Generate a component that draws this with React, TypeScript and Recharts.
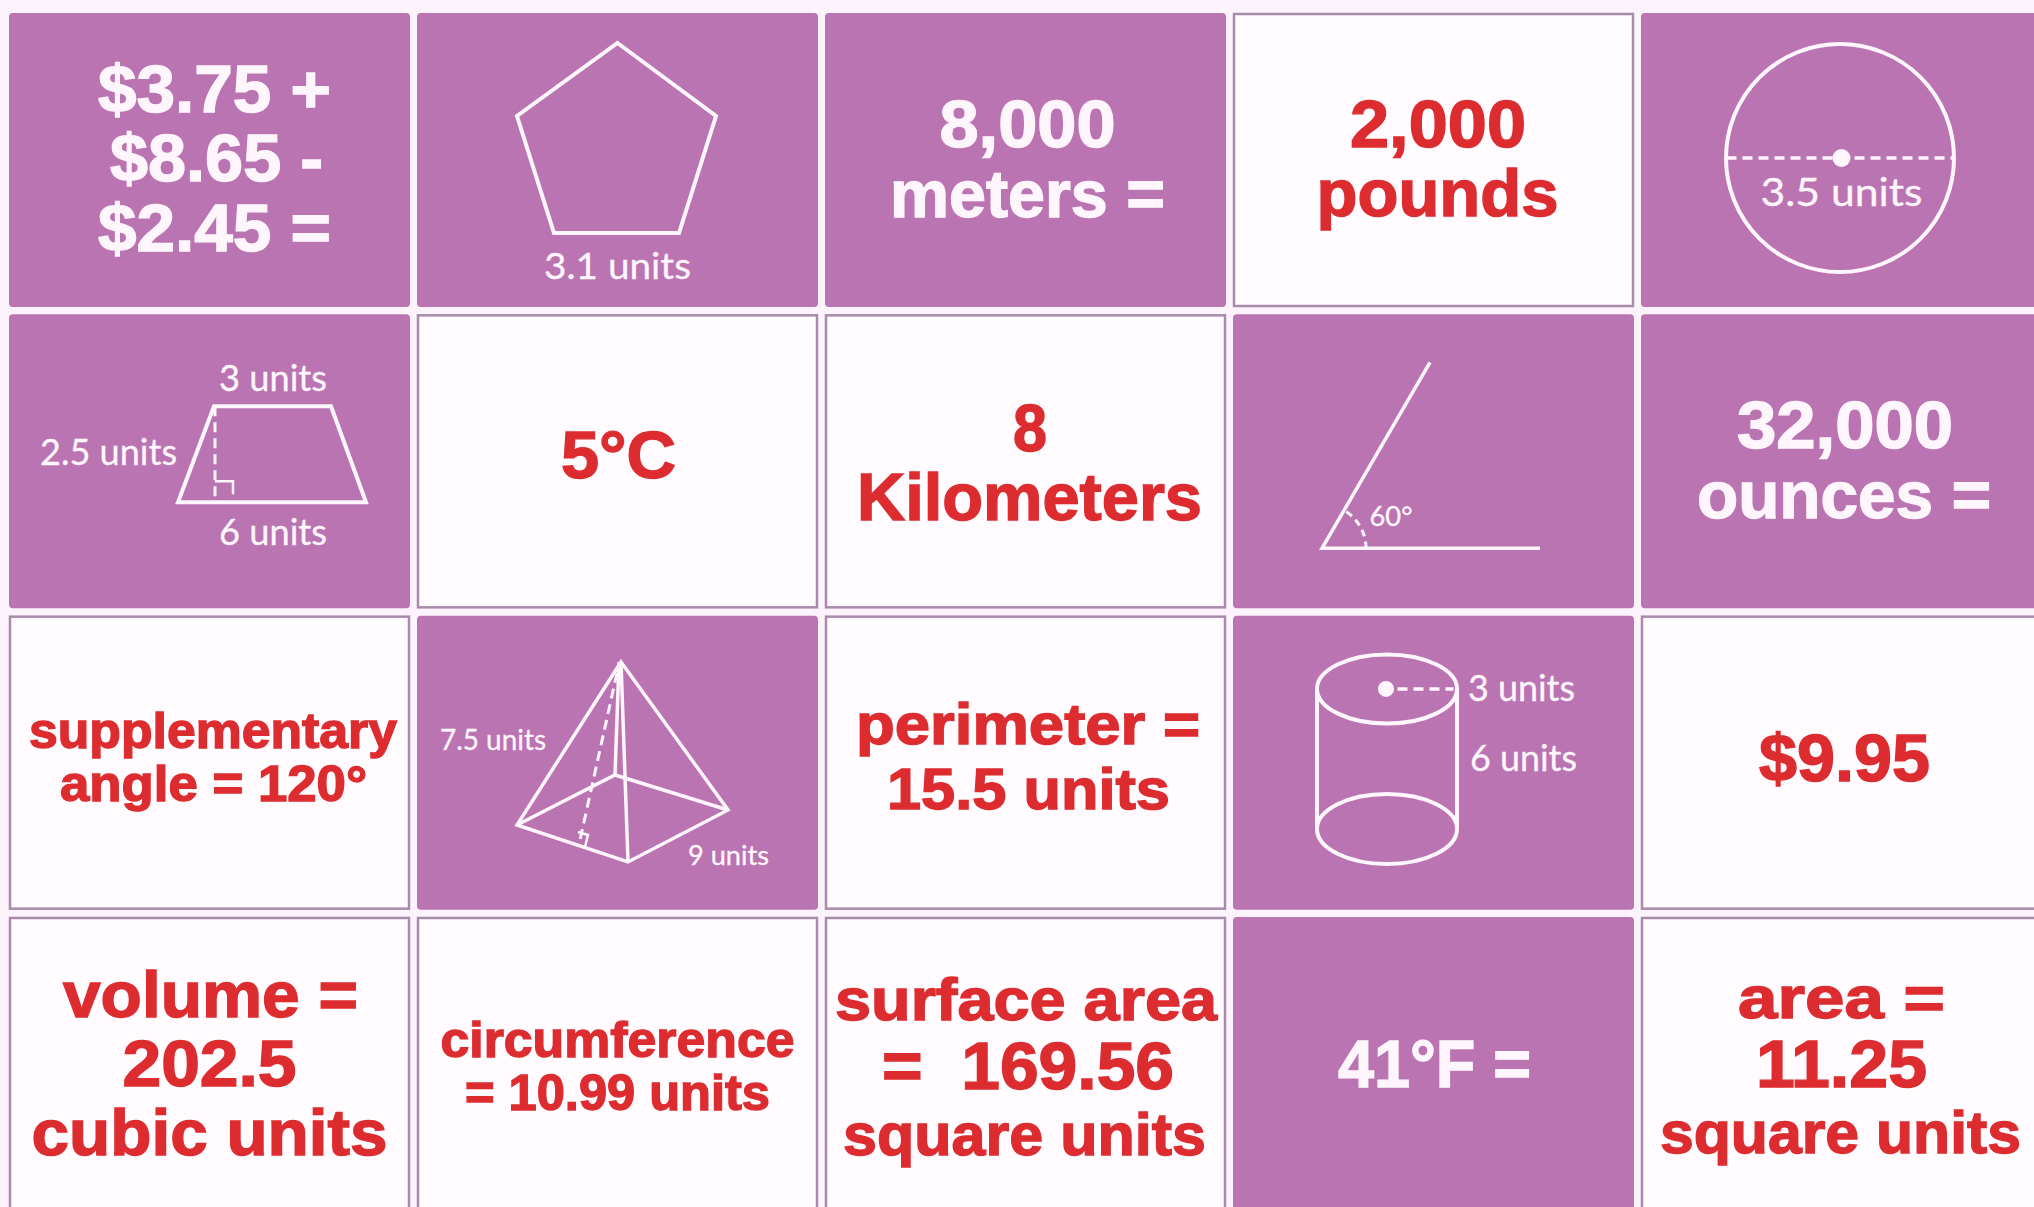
import React from "react";
import { ScatterChart, Scatter, XAxis, YAxis } from "recharts";

const WIDTH = 2034;
const HEIGHT = 1207;
const CARD_W = 401;
const CARD_H = 294;

const PURPLE = "#ba74b1";
const PAGE = "#fdf3fc";
const RED = "#dd2c2f";
const WHITE = "#fffbff";
const BORDER = "#a98aaa";
const INK = "#fff6fd";
const BOLD_FONT = "'Liberation Sans', Arial, sans-serif";
const THIN_FONT = "Lato, 'Open Sans', sans-serif";

// Grid position of each card, in reading order
const columns = [0, 1, 2, 3, 4, 0, 1, 2, 3, 4, 0, 1, 2, 3, 4, 0, 1, 2, 3, 4];
const rows = [0, 0, 0, 0, 0, 1, 1, 1, 1, 1, 2, 2, 2, 2, 2, 3, 3, 3, 3, 3];
const filled = [
  true, true, true, false, true,
  true, false, false, true, true,
  false, true, false, true, false,
  false, false, false, true, false,
];
const figures = [
  "", "pentagon", "", "", "circle",
  "trapezoid", "", "", "angle", "",
  "", "pyramid", "", "cylinder", "",
  "", "", "", "", "",
];
const cardLines = [
  ["$3.75 +", "$8.65 -", "$2.45 ="],
  ["3.1 units"],
  ["8,000", "meters ="],
  ["2,000", "pounds"],
  ["3.5 units"],
  ["3 units", "2.5 units", "6 units"],
  ["5°C"],
  ["8", "Kilometers"],
  ["60°"],
  ["32,000", "ounces ="],
  ["supplementary", "angle = 120°"],
  ["7.5 units", "9 units"],
  ["perimeter =", "15.5 units"],
  ["3 units", "6 units"],
  ["$9.95"],
  ["volume =", "202.5", "cubic units"],
  ["circumference", "= 10.99 units"],
  ["surface area", "=  169.56", "square units"],
  ["41°F ="],
  ["area =", "11.25", "square units"],
];

// [dx, baseline dy, text width, font size] of each line, from the card centre
const lineLayout: number[][][] = [
  [[5, -48, 233, 66], [7, 21, 213, 66], [5, 91, 233, 66]],
  [[0, 119, 147, 36]],
  [[2, -13, 176, 66], [2, 57, 275, 66]],
  [[4.5, -13, 176, 66], [4, 56, 242, 66]],
  [[0, 46, 162, 38]],
  [[63.5, -70, 108, 36], [-101, 4, 137, 36], [63.5, 84, 108, 36]],
  [[1, 17, 115, 66]],
  [[4.5, -10, 34, 66], [4, 59, 345, 66]],
  [[-42.5, 65, 43, 26]],
  [[3.5, -13, 216, 66], [2.5, 57, 294, 66]],
  [[3.5, -15, 368, 50], [4, 38, 307, 50]],
  [[-124.5, -13, 106, 29], [111, 102, 81, 27]],
  [[2.5, -19, 344, 58], [3, 46, 283, 58]],
  [[88, -62, 107, 36], [90, 8, 107, 36]],
  [[3, 18, 171, 66]],
  [[1, -47, 295, 64], [0, 22, 174, 64], [0, 91, 356, 64]],
  [[0, -7, 354, 50], [0, 46, 305, 50]],
  [[0.5, -44, 382, 60], [2.5, 25, 292, 66], [-1, 91, 363, 60]],
  [[1, 23, 193, 66]],
  [[0, -46, 207, 60], [0, 23, 171, 66], [-1, 89, 361, 60]],
];

const cards = columns.map((col, i) => ({
  col,
  row: rows[i],
  filled: filled[i],
  figure: figures[i],
  lines: cardLines[i],
  layout: lineLayout[i],
}));

const Figure = ({ name }: { name: string }) => {
  const line = { fill: "none", stroke: INK, strokeWidth: 4 };
  const dash = { ...line, strokeWidth: 3, strokeDasharray: "10 6" };
  if (name === "pentagon") {
    return <polygon {...line} points="0,-117 98.5,-44 61.5,73 -63.5,73 -100.5,-44" />;
  }
  if (name === "circle") {
    return (
      <g>
        <circle {...line} cx={-1.5} cy={-2} r={114} />
        <line {...dash} strokeWidth={3.5} x1={-115} y1={-2} x2={112} y2={-2} />
        <circle cx={0} cy={-2} r={9} fill={INK} />
      </g>
    );
  }
  if (name === "trapezoid") {
    return (
      <g>
        <polygon {...line} points="4.5,-55 121.5,-55 156.5,41 -31.5,41" />
        <line {...dash} x1={5.5} y1={-55} x2={5.5} y2={41} />
        <polyline {...line} strokeWidth={2.5} points="5.5,20 23.5,20 23.5,33" />
      </g>
    );
  }
  if (name === "angle") {
    return (
      <g>
        <polyline {...line} strokeWidth={3.5} points="-3.5,-99 -111.5,87 106.5,87" />
        <path {...dash} strokeDasharray="7 5" d="M -67.5 87 A 44 44 0 0 0 -89.5 49" />
      </g>
    );
  }
  if (name === "pyramid") {
    return (
      <g>
        <polygon {...line} strokeWidth={3.5} points="3.5,-100.7 110.5,47.3 10.5,99.3 -100.5,62.3" />
        <line {...line} strokeWidth={3.5} x1={3.5} y1={-100.7} x2={10.5} y2={99.3} />
        <line {...line} strokeWidth={3.5} x1={1.5} y1={-100.7} x2={-2.5} y2={12.3} />
        <polyline {...line} strokeWidth={3.5} points="-100.5,62.3 -2.5,12.3 110.5,47.3" />
        <line {...dash} x1={-0.5} y1={-89.7} x2={-37.5} y2={77.3} />
        <polyline {...line} strokeWidth={2.5} points="-39.5,69.3 -29.5,72.3 -32.5,84.3" />
      </g>
    );
  }
  if (name === "cylinder") {
    return (
      <g>
        <ellipse {...line} cx={-46.5} cy={-73.7} rx={70} ry={34.5} />
        <ellipse {...line} cx={-46.5} cy={66.3} rx={70} ry={35} />
        <line {...line} x1={-116.5} y1={-73.7} x2={-116.5} y2={66.3} />
        <line {...line} x1={23.5} y1={-73.7} x2={23.5} y2={66.3} />
        <circle cx={-47.5} cy={-73.7} r={8} fill={INK} />
        <line {...dash} strokeWidth={3.5} x1={-36} y1={-73.7} x2={20} y2={-73.7} />
      </g>
    );
  }
  return null;
};

const CardShape = (props: any) => {
  const { cx, cy, payload } = props;
  const { filled: isFilled, figure, lines, layout } = payload;
  const color = isFilled ? INK : RED;
  return (
    <g transform={`translate(${cx},${cy})`}>
      {isFilled ? (
        <rect x={-CARD_W / 2} y={-CARD_H / 2} width={CARD_W} height={CARD_H} rx={4} fill={PURPLE} />
      ) : (
        <rect
          x={-CARD_W / 2 + 1}
          y={-CARD_H / 2 + 1}
          width={CARD_W - 2}
          height={CARD_H - 2}
          fill={WHITE}
          stroke={BORDER}
          strokeWidth={2.5}
        />
      )}
      <Figure name={figure} />
      {lines.map((text: string, i: number) => {
        const [dx, dy, width, size] = layout[i];
        const thin = size < 40;
        return (
          <text
            key={i}
            x={dx}
            y={dy}
            textAnchor="middle"
            textLength={width}
            lengthAdjust="spacingAndGlyphs"
            fontFamily={thin ? THIN_FONT : BOLD_FONT}
            fontWeight={thin ? 400 : 700}
            fontSize={size}
            fill={color}
            stroke={color}
            strokeWidth={thin ? 0.3 : 1.4}
            style={{ whiteSpace: "pre" }}
          >
            {text}
          </text>
        );
      })}
    </g>
  );
};

export default function App() {
  return (
    <div style={{ position: "absolute", left: 0, top: 0, width: WIDTH, height: HEIGHT, background: PAGE, overflow: "hidden" }}>
      <ScatterChart width={WIDTH} height={HEIGHT} margin={{ top: 0, right: 0, bottom: 0, left: 0 }}>
        {/* column 0 sits at x=209.5 and row 0 at y=160, pitch 408 x 301.33 */}
        <XAxis type="number" dataKey="col" hide domain={[-209.5 / 408, (WIDTH - 209.5) / 408]} />
        <YAxis type="number" dataKey="row" hide reversed domain={[-160 / 301.33, (HEIGHT - 160) / 301.33]} />
        <Scatter data={cards} shape={CardShape} isAnimationActive={false} />
      </ScatterChart>
    </div>
  );
}
